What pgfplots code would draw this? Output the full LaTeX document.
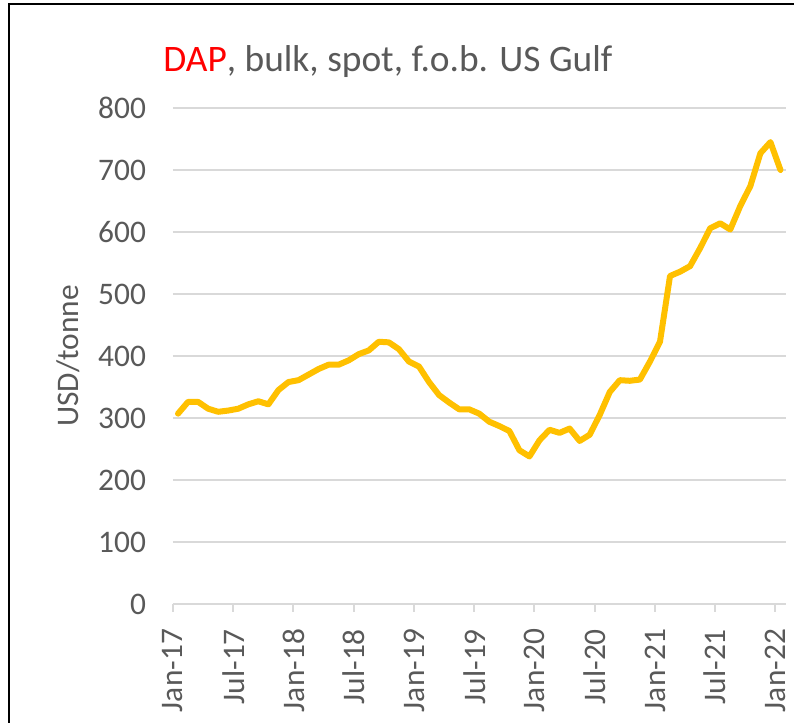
\documentclass[border=0pt]{standalone}
\usepackage{pgfplots}
\pgfplotsset{compat=1.18}
\usepackage{fontspec}
\setmainfont{Carlito}
\definecolor{txt}{HTML}{595959}
\definecolor{gridc}{HTML}{D9D9D9}
\definecolor{gold}{HTML}{FFC000}
\begin{document}
\begin{tikzpicture}
\useasboundingbox (0,0) rectangle (397pt,361.5pt);
\draw[line width=1pt,black] (4.5pt,0) -- (4.5pt,359.5pt) -- (397pt,359.5pt);
\node[anchor=base west,inner sep=0pt,font=\fontsize{18.7}{22}\selectfont,text=txt] at (81.5pt,325.5pt) {\textcolor{red}{DAP}, bulk, spot, f.o.b. US Gulf};
\begin{axis}[
  at={(86.5pt,59.5pt)}, anchor=south west,
  scale only axis, width=306.5pt, height=248pt,
  xmin=-0.5, xmax=60.55, ymin=0, ymax=800,
  ytick={0,100,...,800},
  xtick={-0.5,5.5,...,59.5},
  xticklabels={Jan-17,Jul-17,Jan-18,Jul-18,Jan-19,Jul-19,Jan-20,Jul-20,Jan-21,Jul-21,Jan-22},
  axis x line*=bottom, axis y line*=left,
  x axis line style={draw=gridc, line width=1pt, -},
  y axis line style={draw=none},
  ymajorgrids, grid style={draw=gridc, line width=1pt},
  ytick style={draw=none},
  xtick style={draw=gridc, line width=1pt},
  tick align=outside, major tick length=4pt,
  /pgf/number format/assume math mode=true,
  ticklabel style={font=\fontsize{15.7}{18}\selectfont, text=txt},
  yticklabel style={xshift=-6pt},
  xticklabel style={rotate=90, anchor=east, xshift=-5pt},
  ylabel={USD/tonne},
  ylabel style={font=\fontsize{15.7}{18}\selectfont, text=txt, at={(axis description cs:-0.171,0.5)}, anchor=center},
  clip=false,
]
\addplot[gold, line width=3pt, line join=round, line cap=round] coordinates {
(0,307) (1,326) (2,326) (3,315) (4,310) (5,312) (6,315) (7,322) (8,327) (9,322)
(10,345) (11,358) (12,361) (13,370) (14,379) (15,386) (16,386) (17,393) (18,403) (19,409)
(20,423) (21,422) (22,411) (23,391) (24,383) (25,358) (26,337) (27,325) (28,314) (29,314)
(30,307) (31,294) (32,287) (33,279) (34,248) (35,238) (36,264) (37,281) (38,276) (39,283)
(40,263) (41,273) (42,305) (43,342) (44,361) (45,360) (46,362) (47,391) (48,423) (49,529)
(50,536) (51,545) (52,574) (53,606) (54,614) (55,604) (56,642) (57,674) (58,727) (59,745)
(60,700)
};
\end{axis}
\end{tikzpicture}
\end{document}
